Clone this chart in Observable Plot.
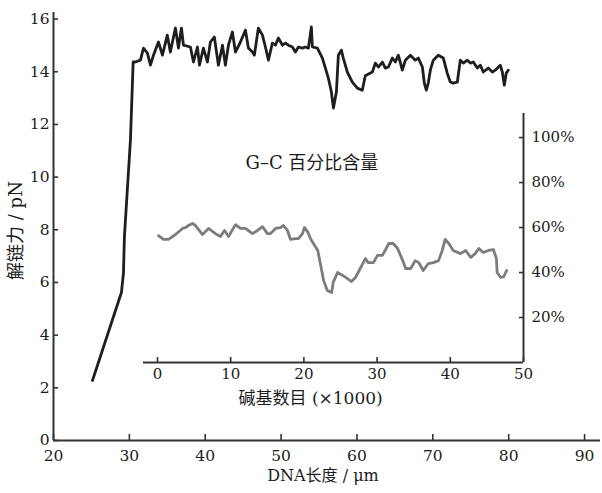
<!DOCTYPE html>
<html><head><meta charset="utf-8">
<script src="https://cdn.jsdelivr.net/npm/d3@7"></script>
<script src="https://cdn.jsdelivr.net/npm/@observablehq/plot@0.6"></script>
<style>
html,body{margin:0;padding:0;background:#fff;}
#wrap{position:relative;width:602px;height:493px;background:#fff;}
#wrap svg{position:absolute;left:0;top:0;}
</style></head><body><div id="wrap"></div>
<script>
// Main curve: DNA length (µm) vs unzipping force (pN)
const dnaLength = [25.14,28.96,29.22,29.35,30.14,30.50,30.80,31.46,31.86,32.38,32.78,33.18,33.83,34.36,35.00,35.40,36.07,36.47,36.86,37.13,38.05,38.45,38.97,39.24,39.76,40.29,40.68,41.20,41.74,42.27,42.66,43.06,43.58,43.98,44.64,45.30,45.69,46.22,46.48,47.00,47.54,47.93,48.33,48.85,49.25,49.64,50.17,50.57,50.96,51.49,51.88,52.28,52.80,53.20,53.60,53.99,54.12,54.78,55.44,55.84,56.23,56.63,56.90,57.29,57.55,57.94,58.20,58.73,59.39,60.05,60.70,61.10,62.03,62.42,62.82,63.35,63.74,64.14,64.66,65.06,65.45,65.98,66.38,67.04,67.69,68.09,68.62,68.88,69.14,69.40,69.67,70.06,70.72,71.38,71.90,72.30,72.70,73.23,73.62,74.02,74.55,74.94,75.34,75.86,76.26,76.65,77.31,77.84,78.23,78.89,79.16,79.42,79.68,79.95];
const unzipForce = [2.28,5.63,6.35,7.75,11.40,14.37,14.37,14.44,14.90,14.71,14.25,14.63,15.13,14.63,15.39,14.75,15.66,14.90,15.66,15.01,14.94,14.37,14.94,14.25,14.90,14.37,15.13,15.32,14.25,15.01,14.25,15.01,15.51,14.75,15.13,15.58,14.90,14.75,14.63,15.66,15.39,14.94,14.44,15.09,15.01,15.28,15.01,15.09,15.01,14.94,14.75,14.94,14.90,14.94,14.90,15.70,14.94,14.90,14.52,14.14,13.76,13.23,12.62,13.23,14.63,14.82,14.52,13.99,13.61,13.38,13.30,13.85,13.99,14.33,14.18,14.37,14.14,14.18,14.52,14.37,14.63,14.06,14.44,14.63,14.44,14.52,14.18,13.57,13.30,13.57,14.06,14.44,14.63,14.52,13.95,13.61,13.57,13.61,14.44,14.33,14.44,14.33,14.37,14.14,14.25,13.99,14.14,13.99,14.06,14.25,13.99,13.49,13.95,14.06];

// Inset: base number (x1000) vs G-C content (%)
const baseNum = [0.14,0.82,1.50,2.46,3.42,3.83,4.23,4.78,5.19,6.15,6.97,7.92,8.60,9.15,9.70,10.66,11.34,12.02,12.98,13.66,14.34,15.03,15.44,16.12,16.80,17.21,17.76,18.17,18.85,19.26,19.80,20.08,20.50,20.90,21.30,21.90,22.30,22.70,23.20,23.80,24.00,24.60,25.30,25.96,26.50,27.05,27.70,28.40,28.80,29.50,30.05,30.70,31.10,31.60,32.20,32.80,33.50,33.90,34.60,35.20,35.70,36.30,37.00,37.70,38.40,38.90,39.30,39.80,40.40,41.40,42.10,42.80,43.40,43.90,44.50,45.20,45.90,46.30,46.40,46.90,47.30,47.70];
const gcPercent = [56.4,54.7,54.7,56.9,59.6,60.0,60.9,61.8,60.9,56.9,59.6,57.3,56.0,58.7,56.0,61.3,59.6,59.6,57.3,58.7,60.4,57.3,57.3,59.6,60.0,60.9,58.7,54.7,55.1,55.1,57.3,60.0,58.2,55.1,52.9,49.8,43.1,36.4,32.0,31.1,35.6,40.0,38.7,37.3,36.0,37.8,41.8,46.2,44.4,44.4,47.6,47.6,49.8,52.9,52.9,50.7,45.3,41.8,41.8,45.3,44.4,40.9,44.0,44.4,45.3,49.8,54.7,52.9,49.8,48.4,49.8,46.7,48.4,50.7,48.9,49.8,50.2,46.2,40.0,37.8,38.2,40.9];

const mainXTicks = [20,30,40,50,60,70,80,90];
const mainYTicks = [0,2,4,6,8,10,12,14,16];
const insetXTicks = [0,10,20,30,40,50];
const insetYTicks = [20,40,60,80,100];

const xTitle = "DNA长度 / μm";
const yTitle = "解链力 / pN";
const insetXTitle = "碱基数目 (×1000)";
const insetLabel = "G–C 百分比含量";

const mainData = dnaLength.map((x, i) => ({x, y: unzipForce[i]}));
const insetData = baseNum.map((x, i) => ({x, y: gcPercent[i]}));

const FONT = "'DejaVu Serif', 'Noto Sans CJK SC', serif";
const INK = "#1c1c1c";

const main = Plot.plot({
  width: 602, height: 493,
  marginLeft: 53, marginRight: 2, marginTop: 12, marginBottom: 53,
  x: {domain: [20, 92.1]},
  y: {domain: [0, 16.25]},
  style: {fontFamily: FONT, fontSize: "15.5px", color: INK, background: "transparent", overflow: "visible"},
  marks: [
    Plot.ruleY([0], {stroke: "#333", strokeWidth: 2}),
    Plot.ruleX([20], {stroke: "#333", strokeWidth: 2}),
    Plot.axisX({ticks: mainXTicks, tickSize: -6, tickPadding: 15, label: null, stroke: "#333", strokeWidth: 1.6, fill: INK}),
    Plot.axisY({ticks: mainYTicks, tickSize: -5, tickPadding: 9, label: null, stroke: "#333", strokeWidth: 1.6, fill: INK}),
    Plot.line(mainData, {x: "x", y: "y", stroke: "#1e1e1e", strokeWidth: 2.8, strokeLinejoin: "round"}),
    Plot.text([xTitle], {frameAnchor: "bottom", textAnchor: "middle", lineAnchor: "middle", dx: -4, dy: 35, fontSize: 16, fill: INK}),
    Plot.text([yTitle], {frameAnchor: "left", textAnchor: "middle", lineAnchor: "middle", rotate: -90, dx: -37, dy: 4, fontSize: 18, fill: INK})
  ]
});

const inset = Plot.plot({
  width: 602, height: 493,
  marginLeft: 143, marginRight: 79, marginTop: 113, marginBottom: 131,
  x: {domain: [-1.91, 50]},
  y: {domain: [0, 110.7]},
  style: {fontFamily: FONT, fontSize: "15px", color: INK, background: "transparent", overflow: "visible"},
  marks: [
    Plot.ruleY([0], {stroke: "#333", strokeWidth: 2}),
    Plot.ruleX([50], {stroke: "#333", strokeWidth: 2}),
    Plot.axisX({ticks: insetXTicks, tickSize: -5, tickPadding: 11, label: null, stroke: "#333", strokeWidth: 1.6, fill: INK}),
    Plot.axisY({anchor: "right", ticks: insetYTicks, tickSize: -5, tickPadding: 13, tickFormat: d => d + "%", label: null, stroke: "#333", strokeWidth: 1.6, fill: INK}),
    Plot.line(insetData, {x: "x", y: "y", stroke: "#7c7c7c", strokeWidth: 2.8, strokeLinejoin: "round"}),
    Plot.text([insetLabel], {frameAnchor: "top-left", textAnchor: "start", lineAnchor: "middle", dx: 102, dy: 50, fontSize: 18, fill: INK}),
    Plot.text([insetXTitle], {frameAnchor: "bottom-left", textAnchor: "start", lineAnchor: "middle", dx: 95, dy: 36, fontSize: 17, fill: INK})
  ]
});

const wrap = document.getElementById("wrap");
wrap.appendChild(main);
wrap.appendChild(inset);
</script></body></html>
